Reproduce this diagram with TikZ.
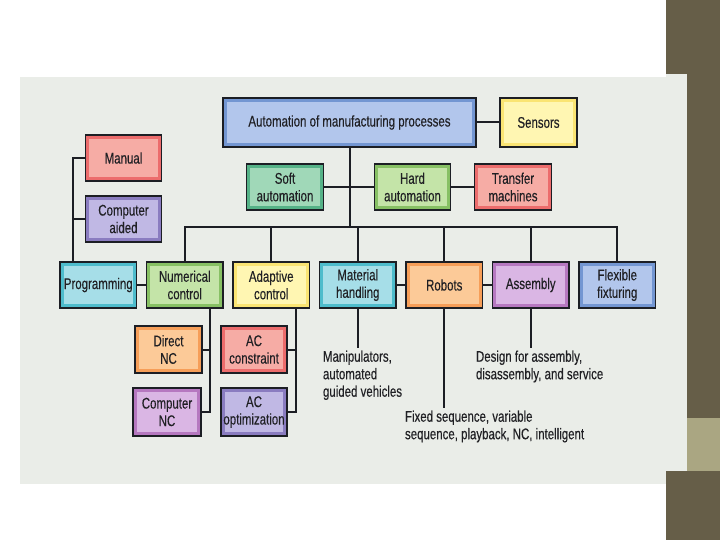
\documentclass[tikz,border=0pt]{standalone}
\usepackage{fontspec}
\setmainfont{Liberation Sans}[FakeStretch=0.74,FakeBold=0.3]
\usetikzlibrary{positioning}
\definecolor{LineDark}{RGB}{28,30,36}
\definecolor{TextDark}{RGB}{32,32,36}
\definecolor{SlideOlive}{RGB}{102,94,72}
\definecolor{SlideTan}{RGB}{170,166,130}
\definecolor{PhotoGray}{RGB}{234,237,232}
\definecolor{BlueBand}{RGB}{115,150,210}
\definecolor{BlueFill}{RGB}{178,198,236}
\definecolor{YellowBand}{RGB}{250,228,115}
\definecolor{YellowFill}{RGB}{255,246,178}
\definecolor{RedBand}{RGB}{236,108,108}
\definecolor{RedFill}{RGB}{246,172,165}
\definecolor{PurpleBand}{RGB}{138,124,192}
\definecolor{PurpleFill}{RGB}{192,184,228}
\definecolor{TealBand}{RGB}{85,178,135}
\definecolor{TealFill}{RGB}{160,216,184}
\definecolor{GreenBand}{RGB}{135,192,100}
\definecolor{GreenFill}{RGB}{196,228,168}
\definecolor{CyanBand}{RGB}{78,188,204}
\definecolor{CyanFill}{RGB}{166,222,232}
\definecolor{OrangeBand}{RGB}{246,158,88}
\definecolor{OrangeFill}{RGB}{252,202,152}
\definecolor{VioletBand}{RGB}{182,120,192}
\definecolor{VioletFill}{RGB}{218,182,228}
\tikzset{
  tile/.style 2 args={
    draw=LineDark,
    line width=1.3pt,
    fill=#1,
    path picture={\fill[#2] ([shift={(3.6pt,3.6pt)}]path picture bounding box.south west)
      rectangle ([shift={(-3.6pt,-3.6pt)}]path picture bounding box.north east);},
    text=TextDark,
    align=center,
    inner sep=0pt,
    outer sep=0pt,
    minimum width=76.5pt,
    minimum height=46pt,
    font=\fontsize{15.5}{17.5}\selectfont
  },
  bluebox/.style={tile={BlueBand}{BlueFill}},
  yellowbox/.style={tile={YellowBand}{YellowFill}},
  redbox/.style={tile={RedBand}{RedFill}},
  purplebox/.style={tile={PurpleBand}{PurpleFill}},
  tealbox/.style={tile={TealBand}{TealFill}},
  greenbox/.style={tile={GreenBand}{GreenFill}},
  cyanbox/.style={tile={CyanBand}{CyanFill}},
  orangebox/.style={tile={OrangeBand}{OrangeFill}},
  violetbox/.style={tile={VioletBand}{VioletFill}},
  note/.style={
    anchor=north west,
    align=left,
    inner xsep=0pt,
    inner ysep=2.5pt,
    outer sep=0pt,
    text=TextDark,
    font=\fontsize{15.5}{17.5}\selectfont
  },
  link/.style={line width=2pt,draw=LineDark}
}
\begin{document}
\begin{tikzpicture}[x=1pt,y=-1pt,node distance=10pt]
    % slide and photo background
    \useasboundingbox (0,0) rectangle (720,540);
    \fill[white] (0,0) rectangle (720,540);
    \fill[SlideOlive] (666,0) rectangle (720,540);
    \fill[PhotoGray] (20,77) rectangle (666,484);
    \fill[PhotoGray] (666,74) rectangle (687,471);
    \fill[SlideTan] (687,418) rectangle (720,471);
    % upper levels
    \node[bluebox,minimum width=253pt,minimum height=49pt] (main) at (349.5,122.5) {Automation of manufacturing processes};
    \node[yellowbox,minimum width=77pt,minimum height=49pt,right=24pt of main] (sensors) {Sensors};
    \node[tealbox] (soft) at (285,187) {Soft\\automation};
    \node[greenbox] (hard) at (412.5,187) {Hard\\automation};
    \node[redbox,right=24pt of hard] (transfer) {Transfer\\machines};
    \node[redbox] (manual) at (123.5,158) {Manual};
    \node[purplebox,below=15pt of manual] (cad) {Computer\\aided};
    % main row
    \node[cyanbox] (prog) at (98.25,285) {Programming};
    \node[greenbox,right=of prog] (numc) {Numerical\\control};
    \node[yellowbox,right=of numc] (adap) {Adaptive\\control};
    \node[cyanbox,right=of adap] (matl) {Material\\handling};
    \node[orangebox,right=of matl] (robots) {Robots};
    \node[violetbox,right=of robots] (assem) {Assembly};
    \node[bluebox,right=of assem] (flex) {Flexible\\fixturing};
    % lower boxes
    \node[orangebox,minimum width=67pt,minimum height=47pt] (dnc) at (168.5,349.5) {Direct\\NC};
    \node[violetbox,minimum width=68pt,minimum height=48pt] (cnc) at (167,412) {Computer\\NC};
    \node[redbox,minimum width=66pt,minimum height=47pt] (acc) at (254,349.5) {AC\\constraint};
    \node[purplebox,minimum width=66pt,minimum height=48pt] (aco) at (254,412) {AC\\optimization};
    % notes
    \node[note] (mhnote) at (323,348) {Manipulators,\\automated\\guided vehicles};
    \node[note] (robnote) at (405,408) {Fixed sequence, variable\\sequence, playback, NC, intelligent};
    \node[note] (asmnote) at (476,348) {Design for assembly,\\disassembly, and service};
    % connectors
    \coordinate (bus) at (0,227);
    \draw[link] (main) -- (sensors);
    \draw[link] (main.south) -- (main.south |- bus);
    \draw[link] (soft) -- (hard);
    \draw[link] (hard) -- (transfer);
    \draw[link] (numc.north) -- (numc.north |- bus) -- (flex.north |- bus) -- (flex.north);
    \foreach \n in {adap,matl,robots,assem}
      \draw[link] (\n.north) -- (\n.north |- bus);
    \draw[link] (prog) -- (numc);
    \draw[link] (matl) -- (robots);
    \draw[link] (robots) -- (assem);
    \draw[link] (manual.west) -- ++(-12,0) coordinate (pv) -- (pv |- prog.north);
    \draw[link] (cad.west) -- (cad.west -| pv);
    \draw[link] (dnc.east) -- ++(8,0) coordinate (ncv);
    \draw[link] (numc.south -| ncv) -- (ncv |- cnc.east) -- (cnc.east);
    \draw[link] (acc.east) -- ++(9,0) coordinate (acv);
    \draw[link] (adap.south -| acv) -- (acv |- aco.east) -- (aco.east);
    \draw[link] (matl.south) -- (matl.south |- mhnote.north);
    \draw[link] (robots.south) -- (robots.south |- robnote.north);
    \draw[link] (assem.south) -- (assem.south |- asmnote.north);
  \end{tikzpicture}
\end{document}
